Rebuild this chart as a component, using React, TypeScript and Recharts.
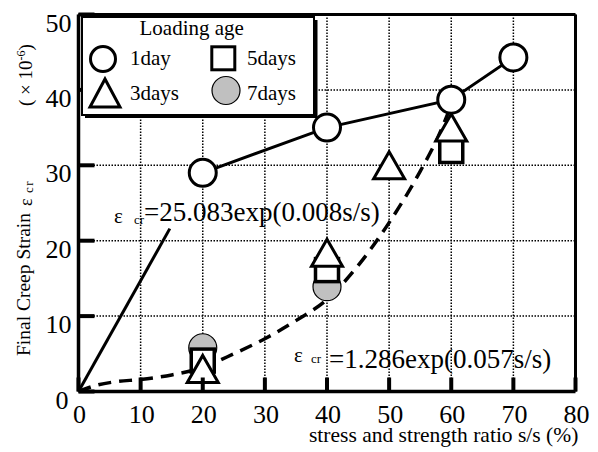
import React from 'react';
import {
  ComposedChart,
  XAxis,
  YAxis,
  CartesianGrid,
  Line,
  Scatter,
  ReferenceLine,
  Legend,
  Customized,
} from 'recharts';

// ---------- data ----------
const xTicks = [0, 10, 20, 30, 40, 50, 60, 70, 80];
const yTicks = [0, 10, 20, 30, 40, 50];

const oneDayX = [20, 40, 60, 70];
const oneDayY = [29.0, 35.0, 38.7, 44.3];

const threeDaysX = [20, 40, 50, 60];
const threeDaysY = [3.0, 18.4, 30.0, 35.0];

const fiveDaysX = [20, 40, 60];
const fiveDaysY = [4.1, 16.1, 31.9];

const sevenDaysX = [20, 40];
const sevenDaysY = [5.8, 13.9];

const fitLineX = [0, 14.7];
const fitLineY = [0, 21.6];

const fitCurveX = [0, 3, 6, 10, 15, 20, 25, 30, 35, 40, 45, 50, 55, 58, 60];
const fitCurveY = [0, 0.85, 1.3, 1.6, 2.2, 3.2, 5.0, 7.0, 9.4, 12.2, 16.7, 22.4, 29.2, 34.0, 38.0];

const legendTitle = 'Loading age';
const legendLabels = ['1day', '5days', '3days', '7days'];
const xTitle = 'stress and strength ratio s/s (%)';

const zip = (xs: number[], ys: number[]) => xs.map((x, i) => ({ x, y: ys[i] }));

const oneDay = zip(oneDayX, oneDayY);
const threeDays = zip(threeDaysX, threeDaysY);
const fiveDays = zip(fiveDaysX, fiveDaysY);
const sevenDays = zip(sevenDaysX, sevenDaysY);
const fitLine = zip(fitLineX, fitLineY);
const fitCurve = zip(fitCurveX, fitCurveY);

const SERIF = '"Liberation Serif", "Times New Roman", serif';

// ---------- marker shapes ----------
const CircleShape = (p: any) => (
  <circle cx={p.cx} cy={p.cy} r={13.5} fill="#fff" stroke="#000" strokeWidth={3} />
);
const SquareShape = (p: any) => (
  <rect x={p.cx - 11.5} y={p.cy - 11.5} width={23} height={23} fill="#fff" stroke="#000" strokeWidth={3.5} />
);
const TriangleShape = (p: any) => {
  const w = 31;
  const h = 27;
  const pts = `${p.cx},${p.cy - h / 2} ${p.cx + w / 2},${p.cy + h / 2} ${p.cx - w / 2},${p.cy + h / 2}`;
  return <polygon points={pts} fill="#fff" stroke="#000" strokeWidth={3} strokeLinejoin="miter" />;
};
const GrayShape = (p: any) => (
  <circle cx={p.cx} cy={p.cy} r={14} fill="#c0c0c0" stroke="#000" strokeWidth={1.2} />
);

// ---------- ticks ----------
const XTick = (p: any) => {
  const { x, y, payload } = p;
  return (
    <g>
      <line x1={x} x2={x} y1={y} y2={y - 14} stroke="#000" strokeWidth={4} />
      <text x={x + 1} y={y + 31} textAnchor="middle" fontSize={26} fontFamily={SERIF} fill="#000">
        {payload.value}
      </text>
    </g>
  );
};
const YTick = (p: any) => {
  const { x, y, payload } = p;
  const off = payload.value === 0 ? 10 : 7;
  return (
    <g>
      <line x1={x} x2={x + 16} y1={y} y2={y} stroke="#000" strokeWidth={4} />
      <text x={x - off} y={y + 17} textAnchor="end" fontSize={26} fontFamily={SERIF} fill="#000">
        {payload.value}
      </text>
    </g>
  );
};

// ---------- legend ----------
const LegendBox = () => (
  <svg width={240} height={106} style={{ display: 'block' }}>
    <rect x={5} y={5} width={232.5} height={98} fill="#000" />
    <rect x={2} y={2} width={232} height={98} fill="#fff" stroke="#000" strokeWidth={2} />
    <text x={111.7} y={20} textAnchor="middle" fontSize={21} fontFamily={SERIF}>{legendTitle}</text>
    <circle cx={23} cy={44} r={12.5} fill="#fff" stroke="#000" strokeWidth={3} />
    <text x={50} y={50} fontSize={21} fontFamily={SERIF}>{legendLabels[0]}</text>
    <rect x={131.8} y={31.8} width={23} height={23} fill="#fff" stroke="#000" strokeWidth={3} />
    <text x={167} y={50} fontSize={21} fontFamily={SERIF}>{legendLabels[1]}</text>
    <polygon points="25,64 40,92 10,92" fill="#fff" stroke="#000" strokeWidth={3} />
    <text x={50} y={85} fontSize={21} fontFamily={SERIF}>{legendLabels[2]}</text>
    <circle cx={146} cy={75.5} r={14} fill="#c0c0c0" stroke="#000" strokeWidth={1.2} />
    <text x={167} y={85} fontSize={21} fontFamily={SERIF}>{legendLabels[3]}</text>
  </svg>
);

// ---------- annotations ----------
const Annotations = () => (
  <g fontFamily={SERIF} fill="#000">
    <text x={114} y={223} fontSize={21}>ε</text>
    <text x={134} y={224} fontSize={13}>cr</text>
    <text x={144} y={221} fontSize={27}>=25.083exp(0.008s/s)</text>

    <text x={294} y={362} fontSize={21}>ε</text>
    <text x={311} y={363} fontSize={13}>cr</text>
    <text x={329} y={368} fontSize={27}>=1.286exp(0.057s/s)</text>

    <text x={309} y={442} fontSize={21.5}>{xTitle}</text>

    <text transform="translate(30,356) rotate(-90)" fontSize={19.5}>Final Creep Strain</text>
    <text transform="translate(31.5,206) rotate(-90)" fontSize={18}>ε</text>
    <text transform="translate(32.5,193) rotate(-90)" fontSize={13} letterSpacing={1.5}>cr</text>
    <text transform="translate(32,106) rotate(-90)" fontSize={19}>
      ( × 10
      <tspan fontSize={12} dy={-7}>-6</tspan>
      <tspan fontSize={19} dy={7}>)</tspan>
    </text>
  </g>
);

export default function App() {
  return (
    <div style={{ position: 'absolute', left: 0, top: 0, width: 598, height: 452, background: '#fff' }}>
      <ComposedChart
        width={598}
        height={452}
        margin={{ top: 14.5, right: 22.5, bottom: 20.5, left: 18.5 }}
      >
        <CartesianGrid stroke="#000" strokeWidth={1.5} strokeDasharray="1.5 1.5" />
        <XAxis
          dataKey="x"
          type="number"
          domain={[0, 80]}
          ticks={xTicks}
          interval={0}
          height={40}
          axisLine={{ stroke: '#000', strokeWidth: 3.5 }}
          tickLine={false}
          tickSize={0}
          tickMargin={0}
          tick={<XTick />}
          allowDataOverflow
        />
        <YAxis
          dataKey="y"
          type="number"
          domain={[0, 50]}
          ticks={yTicks}
          interval={0}
          width={60}
          axisLine={{ stroke: '#000', strokeWidth: 3.5 }}
          tickLine={false}
          tickSize={0}
          tickMargin={0}
          tick={<YTick />}
          allowDataOverflow
        />
        <ReferenceLine x={80} stroke="#000" strokeWidth={3} />
        <ReferenceLine y={50} stroke="#000" strokeWidth={3} />
        <Line data={fitLine} dataKey="y" type="linear" stroke="#000" strokeWidth={3} dot={false} isAnimationActive={false} />
        <Line data={fitCurve} dataKey="y" type="monotone" stroke="#000" strokeWidth={3.5} strokeDasharray="13 8" dot={false} isAnimationActive={false} />
        <Line data={oneDay} dataKey="y" type="linear" stroke="#000" strokeWidth={3} dot={false} isAnimationActive={false} />
        <Scatter data={sevenDays} dataKey="y" shape={GrayShape} isAnimationActive={false} />
        <Scatter data={fiveDays} dataKey="y" shape={SquareShape} isAnimationActive={false} />
        <Scatter data={threeDays} dataKey="y" shape={TriangleShape} isAnimationActive={false} />
        <Scatter data={oneDay} dataKey="y" shape={CircleShape} isAnimationActive={false} />
        <Customized component={Annotations} />
        <Legend
          layout="vertical"
          align="center"
          verticalAlign="middle"
          content={() => <LegendBox />}
          wrapperStyle={{ position: 'absolute', left: 80, top: 15, width: 240, height: 106, margin: 0, padding: 0 }}
        />
      </ComposedChart>
    </div>
  );
}
